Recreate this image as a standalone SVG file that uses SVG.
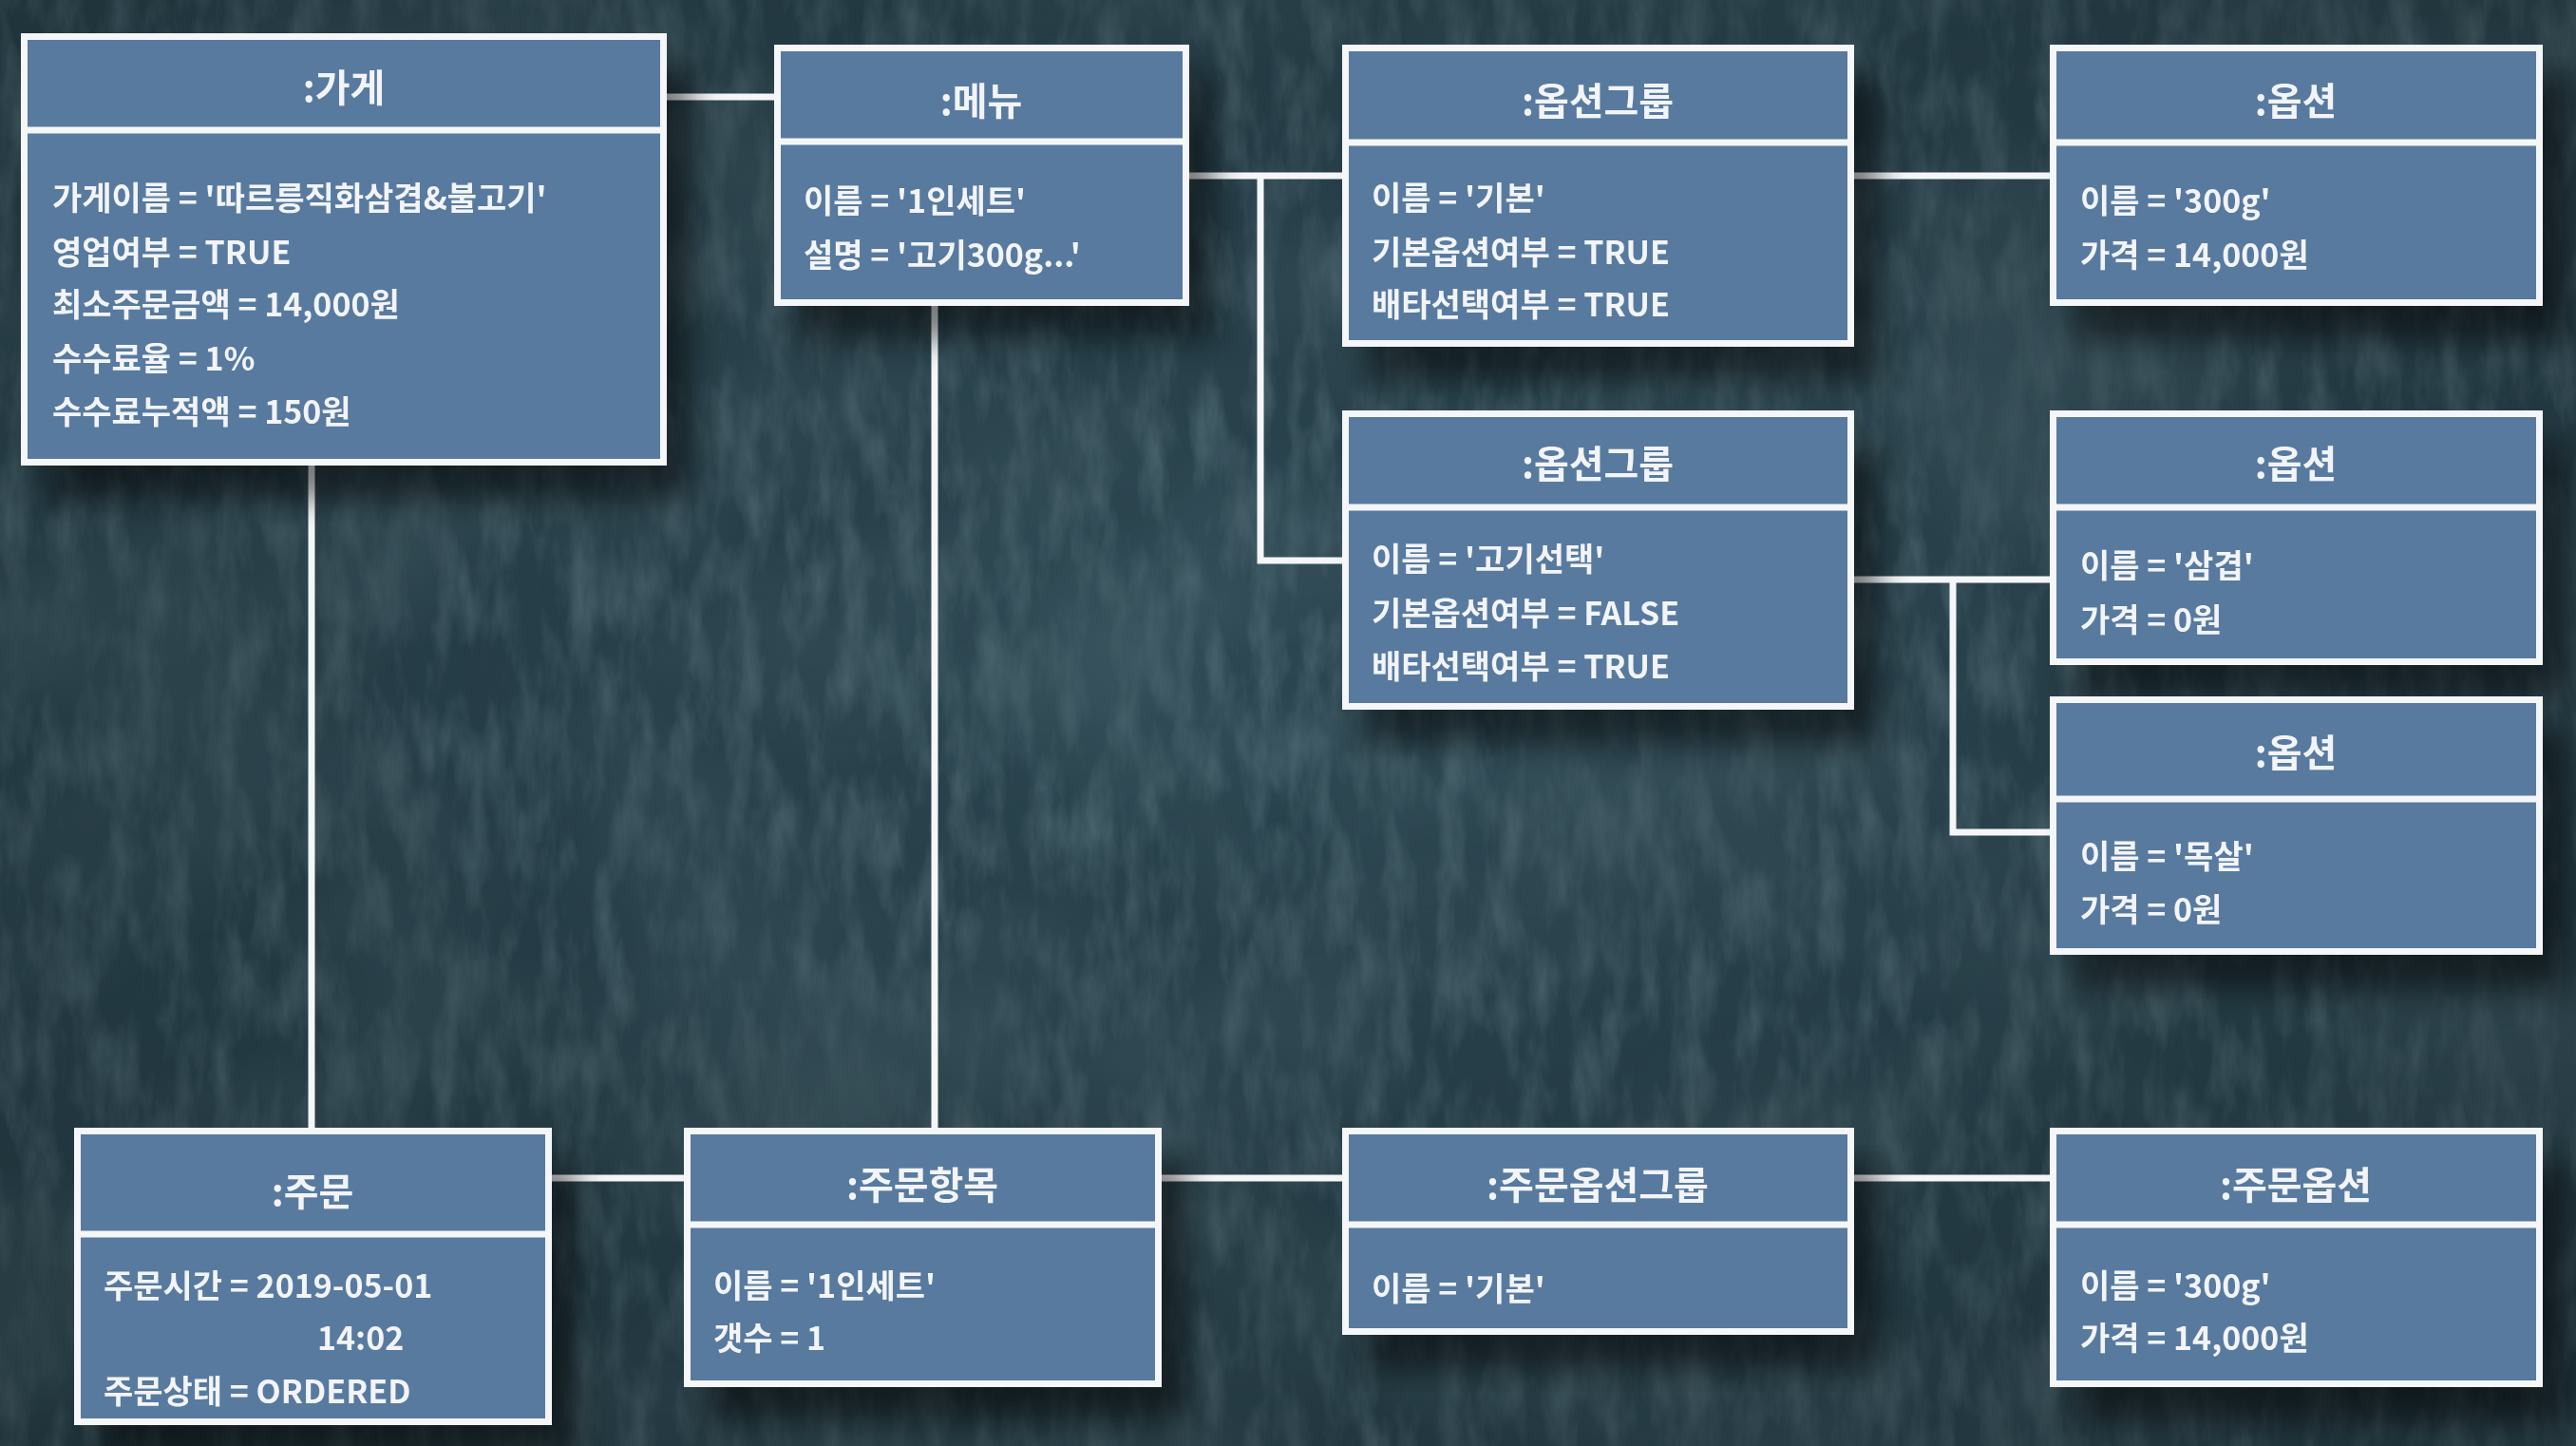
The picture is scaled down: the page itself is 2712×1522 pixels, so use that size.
<svg xmlns="http://www.w3.org/2000/svg" width="2712" height="1522" viewBox="0 0 2712 1522">
  <defs>
    <filter id="grunge" x="0" y="0" width="100%" height="100%">
      <feTurbulence type="fractalNoise" baseFrequency="0.003 0.004" numOctaves="3" seed="11" result="big"/>
      <feColorMatrix in="big" type="matrix" values="0 0 0 0 0.08  0 0 0 0 0.15  0 0 0 0 0.18  -1.6 0 0 0 1.0" result="bigC"/>
      <feTurbulence type="fractalNoise" baseFrequency="0.035 0.012" numOctaves="4" seed="3" result="fine"/>
      <feColorMatrix in="fine" type="matrix" values="0 0 0 0 0.36  0 0 0 0 0.52  0 0 0 0 0.58  1.0 0 0 0 -0.4" result="fineC"/>
      <feMerge><feMergeNode in="fineC"/><feMergeNode in="bigC"/></feMerge>
    </filter>
    <filter id="shadow" x="-10%" y="-10%" width="130%" height="140%">
      <feGaussianBlur in="SourceAlpha" stdDeviation="16"/>
      <feOffset dx="26" dy="36" result="b"/>
      <feComponentTransfer><feFuncA type="linear" slope="0.5"/></feComponentTransfer>
      <feMerge><feMergeNode/><feMergeNode in="SourceGraphic"/></feMerge>
    </filter>
    <radialGradient id="vig" cx="50%" cy="45%" r="75%">
      <stop offset="0" stop-color="#000" stop-opacity="0"/>
      <stop offset="1" stop-color="#000" stop-opacity="0.3"/>
    </radialGradient>
  </defs>
  <style>
    .box { fill: #587a9f; stroke: #f4f6f8; stroke-width: 7; }
    .div { stroke: #f4f6f8; stroke-width: 7; }
    .conn { stroke: #f4f6f8; stroke-width: 7; fill: none; }
    .title { font-family: "Noto Sans CJK KR", "Noto Sans", sans-serif; font-size: 40px; font-weight: 700; fill: #f2f4f7; text-anchor: middle; dominant-baseline: central; }
    .attr { font-family: "Noto Sans CJK KR", "Noto Sans", sans-serif; font-size: 34px; font-weight: 700; fill: #f2f4f7; dominant-baseline: central; }
  </style>

  <rect x="0" y="0" width="2712" height="1522" fill="#2b4651"/>
  <rect x="0" y="0" width="2712" height="1522" filter="url(#grunge)" opacity="0.55"/>
  <rect x="0" y="0" width="2712" height="1522" fill="url(#vig)"/>

  <g id="connectors">
    <line class="conn" x1="700" y1="102" x2="818" y2="102"/>
    <line class="conn" x1="328" y1="488" x2="328" y2="1190"/>
    <line class="conn" x1="984" y1="320" x2="984" y2="1190"/>
    <line class="conn" x1="1250" y1="185" x2="1416" y2="185"/>
    <polyline class="conn" points="1327,185 1327,590 1416,590"/>
    <line class="conn" x1="1950" y1="185" x2="2161" y2="185"/>
    <line class="conn" x1="1950" y1="610" x2="2161" y2="610"/>
    <polyline class="conn" points="2056,610 2056,876 2161,876"/>
    <line class="conn" x1="579" y1="1240" x2="723" y2="1240"/>
    <line class="conn" x1="1221" y1="1240" x2="1416" y2="1240"/>
    <line class="conn" x1="1950" y1="1240" x2="2161" y2="1240"/>
  </g>

  <g id="store" filter="url(#shadow)">
    <rect class="box" x="25.5" y="38.5" width="673" height="448"/>
    <line class="div" x1="25.5" y1="137" x2="698.5" y2="137"/>
    <text class="title" x="362" y="90">:가게</text>
    <text class="attr" x="55" y="206">가게이름 = '따르릉직화삼겹&amp;불고기'</text>
    <text class="attr" x="55" y="263">영업여부 = TRUE</text>
    <text class="attr" x="55" y="318">최소주문금액 = 14,000원</text>
    <text class="attr" x="55" y="375">수수료율 = 1%</text>
    <text class="attr" x="55" y="431">수수료누적액 = 150원</text>
  </g>

  <g id="menu" filter="url(#shadow)">
    <rect class="box" x="818.5" y="50.5" width="430" height="268"/>
    <line class="div" x1="818.5" y1="149" x2="1248.5" y2="149"/>
    <text class="title" x="1033" y="104">:메뉴</text>
    <text class="attr" x="846" y="209">이름 = '1인세트'</text>
    <text class="attr" x="846" y="266">설명 = '고기300g...'</text>
  </g>

  <g id="optiongroup1" filter="url(#shadow)">
    <rect class="box" x="1416.5" y="50.5" width="532" height="311"/>
    <line class="div" x1="1416.5" y1="150" x2="1948.5" y2="150"/>
    <text class="title" x="1682" y="104">:옵션그룹</text>
    <text class="attr" x="1444" y="206">이름 = '기본'</text>
    <text class="attr" x="1444" y="263">기본옵션여부 = TRUE</text>
    <text class="attr" x="1444" y="318">배타선택여부 = TRUE</text>
  </g>

  <g id="option1" filter="url(#shadow)">
    <rect class="box" x="2161.5" y="50.5" width="512" height="268"/>
    <line class="div" x1="2161.5" y1="150" x2="2673.5" y2="150"/>
    <text class="title" x="2417" y="104">:옵션</text>
    <text class="attr" x="2190" y="209">이름 = '300g'</text>
    <text class="attr" x="2190" y="266">가격 = 14,000원</text>
  </g>

  <g id="optiongroup2" filter="url(#shadow)">
    <rect class="box" x="1416.5" y="435.5" width="532" height="308"/>
    <line class="div" x1="1416.5" y1="534" x2="1948.5" y2="534"/>
    <text class="title" x="1682" y="486">:옵션그룹</text>
    <text class="attr" x="1444" y="586">이름 = '고기선택'</text>
    <text class="attr" x="1444" y="643">기본옵션여부 = FALSE</text>
    <text class="attr" x="1444" y="699">배타선택여부 = TRUE</text>
  </g>

  <g id="option2" filter="url(#shadow)">
    <rect class="box" x="2161.5" y="435.5" width="512" height="261"/>
    <line class="div" x1="2161.5" y1="534" x2="2673.5" y2="534"/>
    <text class="title" x="2417" y="486">:옵션</text>
    <text class="attr" x="2190" y="593">이름 = '삼겹'</text>
    <text class="attr" x="2190" y="650">가격 = 0원</text>
  </g>

  <g id="option3" filter="url(#shadow)">
    <rect class="box" x="2161.5" y="736.5" width="512" height="265"/>
    <line class="div" x1="2161.5" y1="841" x2="2673.5" y2="841"/>
    <text class="title" x="2417" y="790">:옵션</text>
    <text class="attr" x="2190" y="899">이름 = '목살'</text>
    <text class="attr" x="2190" y="955">가격 = 0원</text>
  </g>

  <g id="order" filter="url(#shadow)">
    <rect class="box" x="81.5" y="1190.5" width="496" height="306"/>
    <line class="div" x1="81.5" y1="1299" x2="577.5" y2="1299"/>
    <text class="title" x="329" y="1252">:주문</text>
    <text class="attr" x="109" y="1351">주문시간 = 2019-05-01</text>
    <text class="attr" x="334" y="1406">14:02</text>
    <text class="attr" x="109" y="1462">주문상태 = ORDERED</text>
  </g>

  <g id="orderitem" filter="url(#shadow)">
    <rect class="box" x="723.5" y="1190.5" width="496" height="266"/>
    <line class="div" x1="723.5" y1="1289" x2="1219.5" y2="1289"/>
    <text class="title" x="971" y="1245">:주문항목</text>
    <text class="attr" x="751" y="1351">이름 = '1인세트'</text>
    <text class="attr" x="751" y="1406">갯수 = 1</text>
  </g>

  <g id="orderoptiongroup" filter="url(#shadow)">
    <rect class="box" x="1416.5" y="1190.5" width="532" height="211"/>
    <line class="div" x1="1416.5" y1="1289" x2="1948.5" y2="1289"/>
    <text class="title" x="1682" y="1245">:주문옵션그룹</text>
    <text class="attr" x="1444" y="1354">이름 = '기본'</text>
  </g>

  <g id="orderoption" filter="url(#shadow)">
    <rect class="box" x="2161.5" y="1190.5" width="512" height="266"/>
    <line class="div" x1="2161.5" y1="1289" x2="2673.5" y2="1289"/>
    <text class="title" x="2417" y="1245">:주문옵션</text>
    <text class="attr" x="2190" y="1351">이름 = '300g'</text>
    <text class="attr" x="2190" y="1406">가격 = 14,000원</text>
  </g>
</svg>
